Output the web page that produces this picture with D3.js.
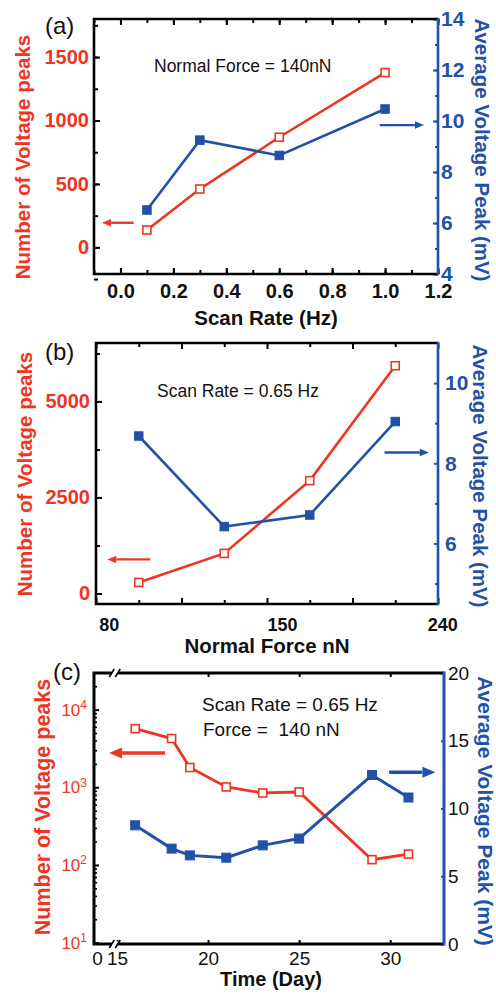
<!DOCTYPE html>
<html>
<head>
<meta charset="utf-8">
<script src="https://cdn.jsdelivr.net/npm/d3@7"></script>
<style>
body { margin: 0; background: #fff; }
svg { display: block; font-family: "Liberation Sans", Arial, sans-serif; }
</style>
</head>
<body>
<div class="chart"></div>
<script>
// panel (a): scan rate
const rateA = [0.1, 0.3, 0.6, 1.0];
const peaksA = [137, 460, 868, 1378];
const avgA = [6.51, 9.25, 8.65, 10.47];
const xTicksA = [0, 0.2, 0.4, 0.6, 0.8, 1.0, 1.2];
const yLeftTicksA = [0, 500, 1000, 1500];
const yRightTicksA = [4, 6, 8, 10, 12, 14];

// panel (b): normal force
const forceB = [100, 140, 180, 220];
const peaksB = [287, 1043, 2938, 5930];
const avgB = [8.68, 6.42, 6.71, 9.04];
const xTickLabelsB = ["80", "150", "240"];
const xTickLabelAtB = [86, 167, 242];
const yLeftTicksB = [0, 2500, 5000];
const yRightTicksB = [6, 8, 10];

// panel (c): time
const dayC = [16, 18, 19, 21, 23, 25, 29, 31];
const peaksC = [5690, 4240, 1795, 1010, 845, 870, 117, 138];
const avgC = [8.76, 7.04, 6.54, 6.37, 7.28, 7.78, 12.47, 10.81];
const xTicksC = [15, 20, 25, 30];
const yLeftTicksC = [10, 100, 1000, 10000];
const yRightTicksC = [0, 5, 10, 15, 20];

const red = "#ee3523", blue = "#2451a8";

const svg = d3.select(".chart")
    .append("svg")
    .attr("width", 496)
    .attr("height", 994);

// removes d3 default font and the domain path
function styleAxis(g, lineColor, textColor, size, weight) {
    g.attr("font-family", null).attr("font-size", null);
    g.select(".domain").remove();
    g.selectAll(".tick line").attr("stroke", lineColor).attr("stroke-width", 2);
    g.selectAll(".tick text")
        .attr("fill", textColor)
        .attr("font-size", size)
        .attr("font-weight", weight);
}

function frame(g, w, h, lw) {
    g.append("path").attr("d", `M${w},0H0V${h}H${w}`)
        .attr("fill", "none").attr("stroke", "#000").attr("stroke-width", lw);
    g.append("line").attr("x1", w).attr("x2", w).attr("y1", -lw / 2).attr("y2", h + lw / 2)
        .attr("stroke", blue).attr("stroke-width", lw);
}

function series(g, x, y, xs, ys, color, filled, size, lw) {
    const pts = xs.map((d, i) => [x(d), y(ys[i])]);
    g.append("path")
        .datum(pts)
        .attr("d", d3.line())
        .attr("fill", "none")
        .attr("stroke", color)
        .attr("stroke-width", lw);
    g.selectAll(null)
        .data(pts)
        .join("rect")
        .attr("x", d => d[0] - size / 2)
        .attr("y", d => d[1] - size / 2)
        .attr("width", size)
        .attr("height", size)
        .attr("fill", filled ? color : "#fff")
        .attr("stroke", color)
        .attr("stroke-width", filled ? 1 : 1.6);
}

function arrow(g, x1, y1, x2, y2, color, lw, head) {
    const ang = Math.atan2(y2 - y1, x2 - x1);
    const bx = x2 - head * Math.cos(ang), by = y2 - head * Math.sin(ang);
    g.append("line").attr("x1", x1).attr("y1", y1).attr("x2", bx).attr("y2", by)
        .attr("stroke", color).attr("stroke-width", lw);
    const w = head * 0.42;
    const px = -Math.sin(ang) * w, py = Math.cos(ang) * w;
    g.append("path")
        .attr("d", `M${x2},${y2}L${bx + px},${by + py}L${bx - px},${by - py}Z`)
        .attr("fill", color);
}

function rotLabel(g, x, y, angle, txt, color, size) {
    g.append("text")
        .attr("transform", `translate(${x},${y}) rotate(${angle})`)
        .attr("text-anchor", "middle")
        .attr("dy", "0.35em")
        .attr("fill", color)
        .attr("font-weight", "bold")
        .attr("font-size", size)
        .text(txt);
}

function PanelA() {
    const box = {left: 94, top: 19, width: 344, height: 255};
    const g = svg.append("g").attr("transform", `translate(${box.left},${box.top})`);

    const x = d3.scaleLinear().domain([-0.1, 1.2]).range([0, box.width]);
    const yL = d3.scaleLinear().domain([-210, 1800]).range([box.height, 0]);
    const yR = d3.scaleLinear().domain([4, 14]).range([box.height, 0]);

    // minor ticks
    const minorX = d3.range(-0.1, 1.25, 0.1);
    g.append("g").attr("transform", `translate(0,${box.height})`)
        .call(d3.axisBottom(x).tickValues(minorX).tickSize(-4).tickFormat(""))
        .call(s => styleAxis(s, "#000"));
    g.append("g").call(d3.axisTop(x).tickValues(minorX).tickSize(-4).tickFormat(""))
        .call(s => styleAxis(s, "#000"));
    g.append("g").call(d3.axisLeft(yL).tickValues(d3.range(-250, 1800, 250)).tickSize(-4).tickFormat(""))
        .call(s => styleAxis(s, "#000"));
    g.append("g").attr("transform", `translate(${box.width},0)`)
        .call(d3.axisRight(yR).tickValues(d3.range(4, 15, 1)).tickSize(-3).tickFormat(""))
        .call(s => styleAxis(s, blue));

    // major ticks with labels
    g.append("g").attr("transform", `translate(0,${box.height})`)
        .call(d3.axisBottom(x).tickValues(xTicksA).tickSize(-6).tickPadding(10).tickFormat(d3.format(".1f")))
        .call(s => styleAxis(s, "#000", "#111", 20, "bold"));
    g.append("g").call(d3.axisTop(x).tickValues(xTicksA).tickSize(-6).tickFormat(""))
        .call(s => styleAxis(s, "#000"));
    g.append("g").call(d3.axisLeft(yL).tickValues(yLeftTicksA).tickSize(-6).tickPadding(5).tickFormat(d3.format("d")))
        .call(s => styleAxis(s, "#000", red, 20, "bold"));
    g.append("g").attr("transform", `translate(${box.width},0)`)
        .call(d3.axisRight(yR).tickValues(yRightTicksA).tickSize(-5).tickPadding(3).tickFormat(d3.format("d")))
        .call(s => styleAxis(s, blue, blue, 21, "bold"));

    frame(g, box.width, box.height, 2.6);

    series(g, x, yL, rateA, peaksA, red, false, 8, 2.6);
    series(g, x, yR, rateA, avgA, blue, true, 8.5, 2.6);

    arrow(g, x(0.05), yL(194), x(-0.07), yL(194), red, 2.4, 9);
    arrow(g, x(0.98), yR(9.84), x(1.147), yR(9.84), blue, 2.4, 9);

    g.append("text").attr("x", 60).attr("y", 53)
        .attr("font-size", 17.5).attr("fill", "#111")
        .text("Normal Force = 140nN");
    svg.append("text").attr("x", 45).attr("y", 34)
        .attr("font-size", 24).attr("fill", "#111").text("(a)");

    svg.append("text").attr("x", box.left + box.width / 2).attr("y", box.top + box.height + 51)
        .attr("text-anchor", "middle").attr("font-weight", "bold").attr("font-size", 20.5)
        .attr("fill", "#111").text("Scan Rate (Hz)");
    rotLabel(svg, 23, 157, -90, "Number of Voltage peaks", red, 20.5);
    rotLabel(svg, 482, 150, 90, "Average Voltage Peak (mV)", blue, 20.5);
}

function PanelB() {
    const box = {left: 96, top: 343, width: 342, height: 261};
    const g = svg.append("g").attr("transform", `translate(${box.left},${box.top})`);

    const x = d3.scaleLinear().domain([80, 240]).range([0, box.width]);
    const yL = d3.scaleLinear().domain([-274, 6522]).range([box.height, 0]);
    const yR = d3.scaleLinear().domain([4.49, 11]).range([box.height, 0]);

    const majorX = d3.range(80, 241, 40), minorX = d3.range(100, 240, 40);
    [[d3.axisBottom, box.height], [d3.axisTop, 0]].forEach(([ax, ty]) => {
        g.append("g").attr("transform", `translate(0,${ty})`)
            .call(ax(x).tickValues(minorX).tickSize(-4).tickFormat(""))
            .call(s => styleAxis(s, "#000"));
        g.append("g").attr("transform", `translate(0,${ty})`)
            .call(ax(x).tickValues(majorX).tickSize(-6).tickFormat(""))
            .call(s => styleAxis(s, "#000"));
    });
    g.append("g").call(d3.axisLeft(yL).tickValues(d3.range(1250, 6500, 2500)).tickSize(-4).tickFormat(""))
        .call(s => styleAxis(s, "#000"));
    g.append("g").call(d3.axisLeft(yL).tickValues(yLeftTicksB).tickSize(-6).tickPadding(6).tickFormat(d3.format("d")))
        .call(s => styleAxis(s, "#000", red, 20, "bold"));
    g.append("g").attr("transform", `translate(${box.width},0)`)
        .call(d3.axisRight(yR).tickValues([5, 7, 9]).tickSize(-3).tickFormat(""))
        .call(s => styleAxis(s, blue));
    g.append("g").attr("transform", `translate(${box.width},0)`)
        .call(d3.axisRight(yR).tickValues(yRightTicksB).tickSize(-4).tickPadding(7).tickFormat(d3.format("d")))
        .call(s => styleAxis(s, blue, blue, 21, "bold"));

    // x tick labels sit a little right of their ticks in the original
    g.append("g").attr("transform", `translate(0,${box.height})`)
        .call(d3.axisBottom(x).tickValues(xTickLabelAtB).tickSize(0).tickPadding(14)
            .tickFormat((d, i) => xTickLabelsB[i]))
        .call(s => styleAxis(s, "#000", "#111", 18, "bold"));

    frame(g, box.width, box.height, 2.6);

    series(g, x, yL, forceB, peaksB, red, false, 8, 2.6);
    series(g, x, yR, forceB, avgB, blue, true, 8.5, 2.6);

    arrow(g, x(105.4), yL(887), x(85.3), yL(887), red, 2.4, 9);
    arrow(g, x(215), yR(8.27), x(235.7), yR(8.27), blue, 2.4, 9);

    g.append("text").attr("x", 61).attr("y", 54)
        .attr("font-size", 17.5).attr("fill", "#111")
        .text("Scan Rate = 0.65 Hz");
    svg.append("text").attr("x", 45).attr("y", 360)
        .attr("font-size", 24).attr("fill", "#111").text("(b)");

    svg.append("text").attr("x", box.left + box.width / 2).attr("y", box.top + box.height + 49)
        .attr("text-anchor", "middle").attr("font-weight", "bold").attr("font-size", 20.5)
        .attr("fill", "#111").text("Normal Force nN");
    rotLabel(svg, 25, 474, -90, "Number of Voltage peaks", red, 20.5);
    rotLabel(svg, 480, 476, 90, "Average Voltage Peak (mV)", blue, 20.5);
}

function PanelC() {
    const box = {left: 94, top: 673, width: 350, height: 271};
    const g = svg.append("g").attr("transform", `translate(${box.left},${box.top})`);

    const x = d3.scaleLinear().domain([13.74, 32.95]).range([0, box.width]);
    const yL = d3.scaleLog().domain([9.6, 29600]).range([box.height, 0]);
    const yR = d3.scaleLinear().domain([0, 20]).range([box.height, 0]);

    g.append("g").attr("transform", `translate(0,${box.height})`)
        .call(d3.axisBottom(x).tickValues(xTicksC).tickSize(-4).tickPadding(8).tickFormat(d3.format("d")))
        .call(s => styleAxis(s, "#000", "#111", 19, "normal"));
    g.append("g").call(d3.axisTop(x).tickValues(xTicksC.slice(1)).tickSize(-4).tickFormat(""))
        .call(s => styleAxis(s, "#000"));

    // log minor ticks 2..9 in each decade
    const minorY = [];
    [10, 100, 1000, 10000].forEach(dec => d3.range(2, 10).forEach(k => {
        if (dec * k < 29600) minorY.push(dec * k);
    }));
    g.append("g").call(d3.axisLeft(yL).tickValues(minorY).tickSize(-3).tickFormat(""))
        .call(s => styleAxis(s, "#000"))
        .selectAll(".tick line").attr("stroke-width", 1.6);
    const la = g.append("g").call(d3.axisLeft(yL).tickValues(yLeftTicksC).tickSize(-5).tickPadding(7))
        .call(s => styleAxis(s, "#000", red, 17, "normal"));
    la.selectAll(".tick text").text("10")
        .append("tspan").attr("dy", "-0.55em").attr("font-size", 12)
        .text(d => Math.round(Math.log10(d)));

    g.append("g").attr("transform", `translate(${box.width},0)`)
        .call(d3.axisRight(yR).tickValues(yRightTicksC).tickSize(-3).tickPadding(4))
        .call(s => styleAxis(s, blue, "#111", 19, "normal"));

    frame(g, box.width, box.height, 3);

    // axis break marks near day 15
    const bx = x(14.88);
    [0, box.height].forEach(by => {
        g.append("rect").attr("x", bx - 3).attr("y", by - 3).attr("width", 6).attr("height", 6).attr("fill", "#fff");
        [-3, 3].forEach(o => g.append("line")
            .attr("x1", bx + o - 2.5).attr("y1", by + 4).attr("x2", bx + o + 2.5).attr("y2", by - 4)
            .attr("stroke", "#000").attr("stroke-width", 1.6));
    });
    g.append("text").attr("x", x.range()[0] + 3.5).attr("y", box.height + 8).attr("dy", "0.71em")
        .attr("text-anchor", "middle").attr("font-size", 19).attr("fill", "#111").text("0");

    series(g, x, yL, dayC, peaksC, red, false, 8, 2.8);
    series(g, x, yR, dayC, avgC, blue, true, 9, 3);

    arrow(g, x(17.64), yL(2760), x(14.57), yL(2760), red, 3.4, 13);
    arrow(g, x(29.94), yR(12.67), x(32.48), yR(12.67), blue, 3.4, 13);

    g.append("text").attr("x", 108).attr("y", 38)
        .attr("font-size", 19).attr("fill", "#111")
        .text("Scan Rate = 0.65 Hz");
    g.append("text").attr("x", 109).attr("y", 63)
        .attr("font-size", 19).attr("fill", "#111")
        .style("white-space", "pre")
        .text("Force =  140 nN");
    svg.append("text").attr("x", 53).attr("y", 680)
        .attr("font-size", 24).attr("fill", "#111").text("(c)");

    svg.append("text").attr("x", box.left + box.width / 2 + 2).attr("y", box.top + box.height + 42)
        .attr("text-anchor", "middle").attr("font-weight", "bold").attr("font-size", 20)
        .attr("fill", "#111").text("Time (Day)");
    rotLabel(svg, 42, 807, -90, "Number of Voltage peaks", red, 21.5);
    rotLabel(svg, 485, 811, 90, "Average Voltage Peak (mV)", blue, 21);
}

PanelA();
PanelB();
PanelC();
</script>
</body>
</html>
